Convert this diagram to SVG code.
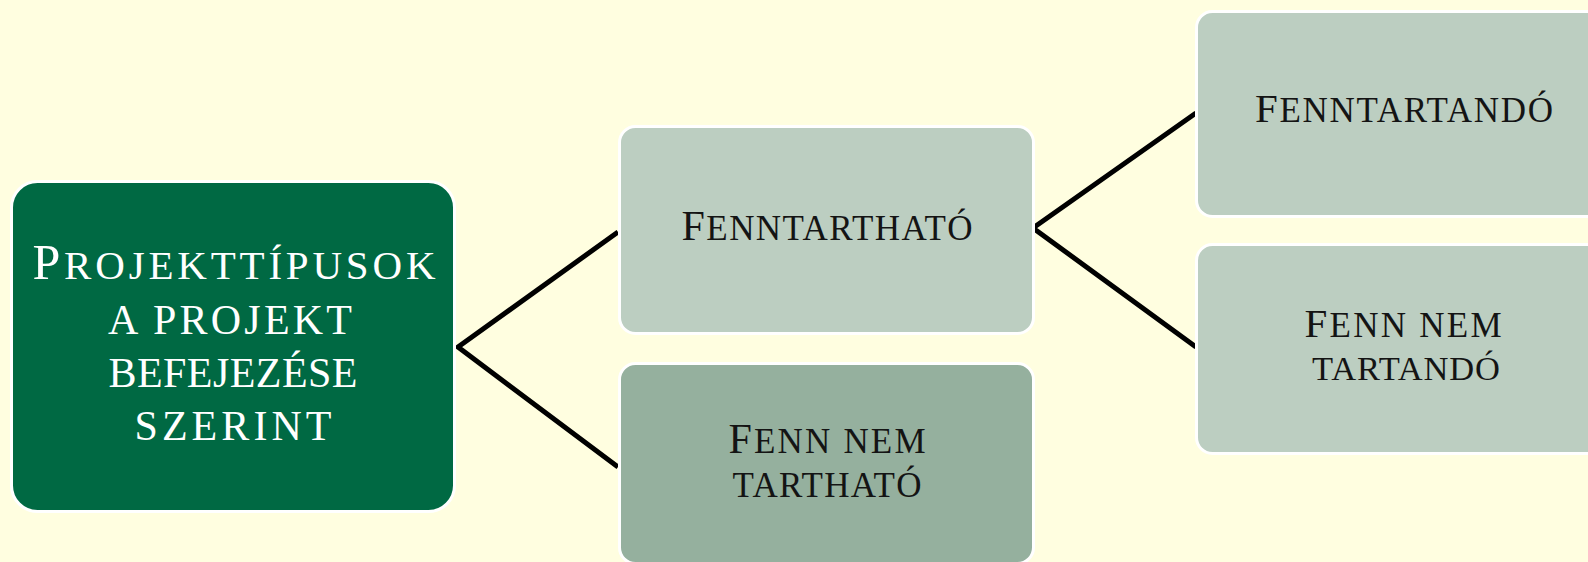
<svg xmlns="http://www.w3.org/2000/svg" width="1588" height="562" viewBox="0 0 1588 562">
  <style>
    .box { stroke: #ffffff; stroke-width: 3; }
    .root { fill: #006943; }
    .light { fill: #BCCEC1; }
    .dark { fill: #95B09E; }
    .lbl { font-family: "Liberation Serif", "DejaVu Serif", serif; text-anchor: middle; fill: #141414; }
    .rootlbl { fill: #ffffff; }
    .conn { fill: none; stroke: #000000; stroke-width: 5; stroke-linejoin: miter; stroke-linecap: butt; }
  </style>
  <rect x="0" y="0" width="1588" height="562" fill="#FFFEE0"/>
  <g id="connectors">
    <path class="conn" d="M618,232 L458,347 L618,467"/>
    <path class="conn" d="M1196,113 L1033,228 L1196,347"/>
  </g>
  <g id="node-root">
    <rect class="box root" x="11.5" y="181.5" width="443" height="330" rx="26" ry="26"/>
    <text class="lbl rootlbl" x="234" y="279" font-size="41" textLength="403" lengthAdjust="spacing"><tspan font-size="50">P</tspan>ROJEKTTÍPUSOK</text>
    <text class="lbl rootlbl" x="230" y="334" font-size="42" textLength="244" lengthAdjust="spacing">A PROJEKT</text>
    <text class="lbl rootlbl" x="233" y="387" font-size="42" textLength="249" lengthAdjust="spacing">BEFEJEZÉSE</text>
    <text class="lbl rootlbl" x="233" y="440" font-size="42" textLength="197" lengthAdjust="spacing">SZERINT</text>
  </g>
  <g id="node-fenntarthato">
    <rect class="box light" x="619.5" y="126.5" width="414" height="207" rx="16" ry="16"/>
    <text class="lbl" x="827" y="240" font-size="35" textLength="291" lengthAdjust="spacing"><tspan font-size="42">F</tspan>ENNTARTHATÓ</text>
  </g>
  <g id="node-fenn-nem-tarthato">
    <rect class="box dark" x="619.5" y="363.5" width="414" height="200" rx="16" ry="16"/>
    <text class="lbl" x="827" y="453" font-size="35" textLength="197" lengthAdjust="spacing"><tspan font-size="42">F</tspan>ENN NEM</text>
    <text class="lbl" x="827" y="497" font-size="35" textLength="189" lengthAdjust="spacing">TARTHATÓ</text>
  </g>
  <g id="node-fenntartando">
    <rect class="box light" x="1196.5" y="11.5" width="420" height="205" rx="16" ry="16"/>
    <text class="lbl" x="1404" y="122" font-size="35" textLength="298" lengthAdjust="spacing"><tspan font-size="41">F</tspan>ENNTARTANDÓ</text>
  </g>
  <g id="node-fenn-nem-tartando">
    <rect class="box light" x="1196.5" y="244.5" width="420" height="209" rx="16" ry="16"/>
    <text class="lbl" x="1403" y="337" font-size="35" textLength="197" lengthAdjust="spacing"><tspan font-size="41">F</tspan>ENN NEM</text>
    <text class="lbl" x="1406" y="380" font-size="34.5" textLength="188" lengthAdjust="spacing">TARTANDÓ</text>
  </g>
</svg>
